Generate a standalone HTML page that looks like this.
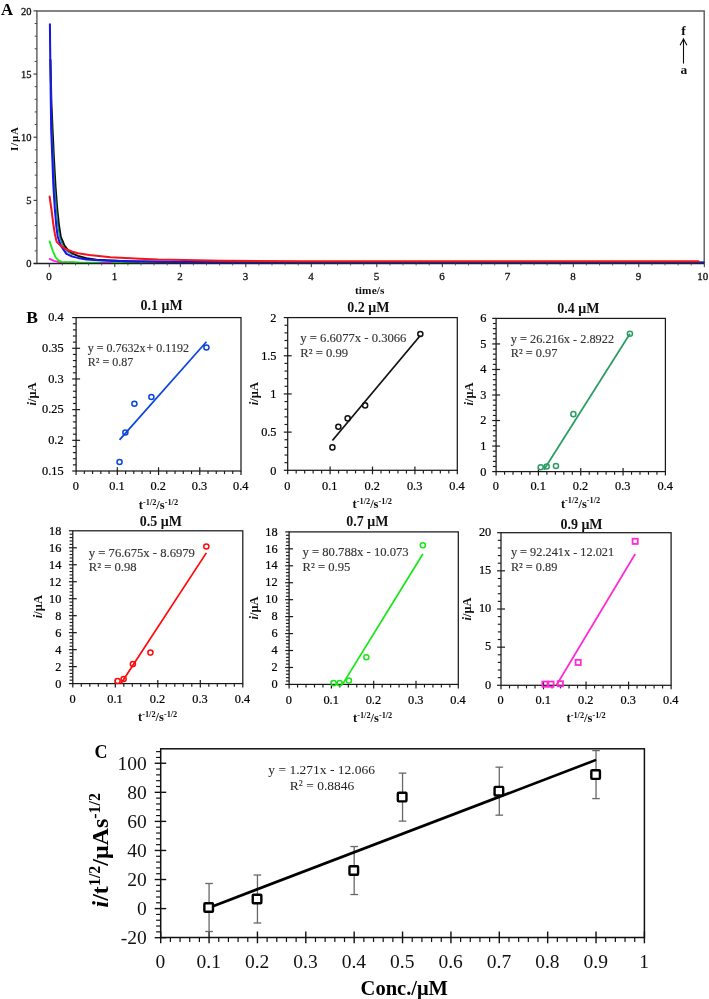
<!DOCTYPE html>
<html lang="en">
<head>
<meta charset="utf-8">
<title>Figure</title>
<style>
html, body { margin: 0; padding: 0; background: #ffffff; }
body { width: 709px; height: 999px; overflow: hidden; font-family: "Liberation Serif", serif; }
svg { display: block; font-family: "Liberation Serif", serif; }
#panelA { filter: url(#soft); }
</style>
</head>
<body>
<svg width="709" height="999" viewBox="0 0 709 999">
<defs><filter id="soft" x="-2%" y="-2%" width="104%" height="104%"><feGaussianBlur stdDeviation="0.45"/></filter></defs>
<rect x="0" y="0" width="709" height="999" fill="#ffffff"/>
<g id="panelA">
<path d="M36.9 263.5 V11 H704.2 V263.5" fill="none" stroke="#5a5a5a" stroke-width="1.4"/>
<line x1="33.5" y1="263.5" x2="36.9" y2="263.5" stroke="#333" stroke-width="1.1" />
<line x1="34.7" y1="250.87" x2="36.9" y2="250.87" stroke="#444" stroke-width="1.0" />
<line x1="34.7" y1="238.24" x2="36.9" y2="238.24" stroke="#444" stroke-width="1.0" />
<line x1="34.7" y1="225.61" x2="36.9" y2="225.61" stroke="#444" stroke-width="1.0" />
<line x1="34.7" y1="212.98" x2="36.9" y2="212.98" stroke="#444" stroke-width="1.0" />
<line x1="33.5" y1="200.35" x2="36.9" y2="200.35" stroke="#333" stroke-width="1.1" />
<line x1="34.7" y1="187.72" x2="36.9" y2="187.72" stroke="#444" stroke-width="1.0" />
<line x1="34.7" y1="175.09" x2="36.9" y2="175.09" stroke="#444" stroke-width="1.0" />
<line x1="34.7" y1="162.46" x2="36.9" y2="162.46" stroke="#444" stroke-width="1.0" />
<line x1="34.7" y1="149.83" x2="36.9" y2="149.83" stroke="#444" stroke-width="1.0" />
<line x1="33.5" y1="137.2" x2="36.9" y2="137.2" stroke="#333" stroke-width="1.1" />
<line x1="34.7" y1="124.57" x2="36.9" y2="124.57" stroke="#444" stroke-width="1.0" />
<line x1="34.7" y1="111.94" x2="36.9" y2="111.94" stroke="#444" stroke-width="1.0" />
<line x1="34.7" y1="99.31" x2="36.9" y2="99.31" stroke="#444" stroke-width="1.0" />
<line x1="34.7" y1="86.68" x2="36.9" y2="86.68" stroke="#444" stroke-width="1.0" />
<line x1="33.5" y1="74.05" x2="36.9" y2="74.05" stroke="#333" stroke-width="1.1" />
<line x1="34.7" y1="61.42" x2="36.9" y2="61.42" stroke="#444" stroke-width="1.0" />
<line x1="34.7" y1="48.79" x2="36.9" y2="48.79" stroke="#444" stroke-width="1.0" />
<line x1="34.7" y1="36.16" x2="36.9" y2="36.16" stroke="#444" stroke-width="1.0" />
<line x1="34.7" y1="23.53" x2="36.9" y2="23.53" stroke="#444" stroke-width="1.0" />
<line x1="33.5" y1="10.9" x2="36.9" y2="10.9" stroke="#333" stroke-width="1.1" />
<text x="31.4" y="267.1" font-size="10.5" text-anchor="end" font-weight="normal" fill="#111" stroke="#111" stroke-width="0.3">0</text>
<text x="31.4" y="203.95" font-size="10.5" text-anchor="end" font-weight="normal" fill="#111" stroke="#111" stroke-width="0.3">5</text>
<text x="31.4" y="140.8" font-size="10.5" text-anchor="end" font-weight="normal" fill="#111" stroke="#111" stroke-width="0.3">10</text>
<text x="31.4" y="77.65" font-size="10.5" text-anchor="end" font-weight="normal" fill="#111" stroke="#111" stroke-width="0.3">15</text>
<text x="31.4" y="14.5" font-size="10.5" text-anchor="end" font-weight="normal" fill="#111" stroke="#111" stroke-width="0.3">20</text>
<path d="M49.6 258.9 L54 260.8 L59.8 262.2 L74 262.4" fill="none" stroke="#ff22dd" stroke-width="1.8" stroke-linejoin="round" stroke-linecap="round"/>
<path d="M49.6 241.4 L52.5 250 L55.6 257.4 L58.5 260.4 L61.9 261.9 L80 262.4 L139 262.6" fill="none" stroke="#1dea1d" stroke-width="1.9" stroke-linejoin="round" stroke-linecap="round"/>
<path d="M100 262.7 L112 262.7" fill="none" stroke="#c040e0" stroke-width="1.4" stroke-linejoin="round" stroke-linecap="round"/>
<path d="M50.5 60 L51.3 100 L52.6 130 L53.9 158 L55.5 186 L57.2 208.5 L59 225.3 L60.8 237 L64.2 245 L68 250.4 L72.4 253.6 L78 255.9 L86.4 258.3 L96.4 259.7 L125 261.2 L200 262.2 L400 262.6 L703.5 262.7" fill="none" stroke="#101010" stroke-width="2.0" stroke-linejoin="round" stroke-linecap="round"/>
<path d="M50.3 60 L51.9 130 L54.6 186 L57.9 226 L59.9 238 L63.2 246 L67.2 251.6 L73 255" fill="none" stroke="#1f8a6a" stroke-width="1.2" stroke-linejoin="round" stroke-linecap="round"/>
<path d="M49.9 24.3 L50.5 80 L51.2 130 L52.3 158 L53.4 186 L54.8 208.5 L56.3 226 L57.7 236.5 L59.3 241.5 L61.4 246.6 L66.5 253.9 L72.4 256.6 L78 257.9 L86.5 259.4 L103.5 260.6 L140 261.6 L200 262.2 L400 262.4 L703.8 262.4" fill="none" stroke="#1212ee" stroke-width="2.0" stroke-linejoin="round" stroke-linecap="round"/>
<path d="M49.6 196.6 L51.4 209 L53.4 225 L54.9 234 L56.6 241.6 L60.5 245.6 L65.6 249 L72.4 251.7 L78 253.2 L89.4 254.9 L110.5 257.2 L140 258.7 L158 259.5 L197 260.2 L222 260.8 L300 261.2 L500 261.3 L698.5 261.3" fill="none" stroke="#f0141e" stroke-width="2.0" stroke-linejoin="round" stroke-linecap="round"/>
<line x1="33.7" y1="263.5" x2="704.2" y2="263.5" stroke="#222" stroke-width="1.3" />
<line x1="49.3" y1="263.5" x2="49.3" y2="267.1" stroke="#333" stroke-width="1" />
<line x1="62.4" y1="263.5" x2="62.4" y2="265.5" stroke="#555" stroke-width="0.9" />
<line x1="75.5" y1="263.5" x2="75.5" y2="265.5" stroke="#555" stroke-width="0.9" />
<line x1="88.6" y1="263.5" x2="88.6" y2="265.5" stroke="#555" stroke-width="0.9" />
<line x1="101.7" y1="263.5" x2="101.7" y2="265.5" stroke="#555" stroke-width="0.9" />
<line x1="114.8" y1="263.5" x2="114.8" y2="267.1" stroke="#333" stroke-width="1" />
<line x1="127.9" y1="263.5" x2="127.9" y2="265.5" stroke="#555" stroke-width="0.9" />
<line x1="141" y1="263.5" x2="141" y2="265.5" stroke="#555" stroke-width="0.9" />
<line x1="154.1" y1="263.5" x2="154.1" y2="265.5" stroke="#555" stroke-width="0.9" />
<line x1="167.2" y1="263.5" x2="167.2" y2="265.5" stroke="#555" stroke-width="0.9" />
<line x1="180.3" y1="263.5" x2="180.3" y2="267.1" stroke="#333" stroke-width="1" />
<line x1="193.4" y1="263.5" x2="193.4" y2="265.5" stroke="#555" stroke-width="0.9" />
<line x1="206.5" y1="263.5" x2="206.5" y2="265.5" stroke="#555" stroke-width="0.9" />
<line x1="219.6" y1="263.5" x2="219.6" y2="265.5" stroke="#555" stroke-width="0.9" />
<line x1="232.7" y1="263.5" x2="232.7" y2="265.5" stroke="#555" stroke-width="0.9" />
<line x1="245.8" y1="263.5" x2="245.8" y2="267.1" stroke="#333" stroke-width="1" />
<line x1="258.9" y1="263.5" x2="258.9" y2="265.5" stroke="#555" stroke-width="0.9" />
<line x1="272" y1="263.5" x2="272" y2="265.5" stroke="#555" stroke-width="0.9" />
<line x1="285.1" y1="263.5" x2="285.1" y2="265.5" stroke="#555" stroke-width="0.9" />
<line x1="298.2" y1="263.5" x2="298.2" y2="265.5" stroke="#555" stroke-width="0.9" />
<line x1="311.3" y1="263.5" x2="311.3" y2="267.1" stroke="#333" stroke-width="1" />
<line x1="324.4" y1="263.5" x2="324.4" y2="265.5" stroke="#555" stroke-width="0.9" />
<line x1="337.5" y1="263.5" x2="337.5" y2="265.5" stroke="#555" stroke-width="0.9" />
<line x1="350.6" y1="263.5" x2="350.6" y2="265.5" stroke="#555" stroke-width="0.9" />
<line x1="363.7" y1="263.5" x2="363.7" y2="265.5" stroke="#555" stroke-width="0.9" />
<line x1="376.8" y1="263.5" x2="376.8" y2="267.1" stroke="#333" stroke-width="1" />
<line x1="389.9" y1="263.5" x2="389.9" y2="265.5" stroke="#555" stroke-width="0.9" />
<line x1="403" y1="263.5" x2="403" y2="265.5" stroke="#555" stroke-width="0.9" />
<line x1="416.1" y1="263.5" x2="416.1" y2="265.5" stroke="#555" stroke-width="0.9" />
<line x1="429.2" y1="263.5" x2="429.2" y2="265.5" stroke="#555" stroke-width="0.9" />
<line x1="442.3" y1="263.5" x2="442.3" y2="267.1" stroke="#333" stroke-width="1" />
<line x1="455.4" y1="263.5" x2="455.4" y2="265.5" stroke="#555" stroke-width="0.9" />
<line x1="468.5" y1="263.5" x2="468.5" y2="265.5" stroke="#555" stroke-width="0.9" />
<line x1="481.6" y1="263.5" x2="481.6" y2="265.5" stroke="#555" stroke-width="0.9" />
<line x1="494.7" y1="263.5" x2="494.7" y2="265.5" stroke="#555" stroke-width="0.9" />
<line x1="507.8" y1="263.5" x2="507.8" y2="267.1" stroke="#333" stroke-width="1" />
<line x1="520.9" y1="263.5" x2="520.9" y2="265.5" stroke="#555" stroke-width="0.9" />
<line x1="534" y1="263.5" x2="534" y2="265.5" stroke="#555" stroke-width="0.9" />
<line x1="547.1" y1="263.5" x2="547.1" y2="265.5" stroke="#555" stroke-width="0.9" />
<line x1="560.2" y1="263.5" x2="560.2" y2="265.5" stroke="#555" stroke-width="0.9" />
<line x1="573.3" y1="263.5" x2="573.3" y2="267.1" stroke="#333" stroke-width="1" />
<line x1="586.4" y1="263.5" x2="586.4" y2="265.5" stroke="#555" stroke-width="0.9" />
<line x1="599.5" y1="263.5" x2="599.5" y2="265.5" stroke="#555" stroke-width="0.9" />
<line x1="612.6" y1="263.5" x2="612.6" y2="265.5" stroke="#555" stroke-width="0.9" />
<line x1="625.7" y1="263.5" x2="625.7" y2="265.5" stroke="#555" stroke-width="0.9" />
<line x1="638.8" y1="263.5" x2="638.8" y2="267.1" stroke="#333" stroke-width="1" />
<line x1="651.9" y1="263.5" x2="651.9" y2="265.5" stroke="#555" stroke-width="0.9" />
<line x1="665" y1="263.5" x2="665" y2="265.5" stroke="#555" stroke-width="0.9" />
<line x1="678.1" y1="263.5" x2="678.1" y2="265.5" stroke="#555" stroke-width="0.9" />
<line x1="691.2" y1="263.5" x2="691.2" y2="265.5" stroke="#555" stroke-width="0.9" />
<line x1="704.3" y1="263.5" x2="704.3" y2="267.1" stroke="#333" stroke-width="1" />
<text x="49.1" y="280.4" font-size="11" text-anchor="middle" font-weight="normal" fill="#111" stroke="#111" stroke-width="0.3">0</text>
<text x="114.6" y="280.4" font-size="11" text-anchor="middle" font-weight="normal" fill="#111" stroke="#111" stroke-width="0.3">1</text>
<text x="180.1" y="280.4" font-size="11" text-anchor="middle" font-weight="normal" fill="#111" stroke="#111" stroke-width="0.3">2</text>
<text x="245.6" y="280.4" font-size="11" text-anchor="middle" font-weight="normal" fill="#111" stroke="#111" stroke-width="0.3">3</text>
<text x="311.1" y="280.4" font-size="11" text-anchor="middle" font-weight="normal" fill="#111" stroke="#111" stroke-width="0.3">4</text>
<text x="376.6" y="280.4" font-size="11" text-anchor="middle" font-weight="normal" fill="#111" stroke="#111" stroke-width="0.3">5</text>
<text x="442.1" y="280.4" font-size="11" text-anchor="middle" font-weight="normal" fill="#111" stroke="#111" stroke-width="0.3">6</text>
<text x="507.6" y="280.4" font-size="11" text-anchor="middle" font-weight="normal" fill="#111" stroke="#111" stroke-width="0.3">7</text>
<text x="573.1" y="280.4" font-size="11" text-anchor="middle" font-weight="normal" fill="#111" stroke="#111" stroke-width="0.3">8</text>
<text x="638.6" y="280.4" font-size="11" text-anchor="middle" font-weight="normal" fill="#111" stroke="#111" stroke-width="0.3">9</text>
<text x="702.8" y="280.4" font-size="11" text-anchor="middle" font-weight="normal" fill="#111" stroke="#111" stroke-width="0.3">10</text>
<text x="369.8" y="293.6" font-size="11.3" text-anchor="middle" font-weight="bold" fill="#111" letter-spacing="0.15">time/s</text>
<text transform="translate(17.6 138.7) rotate(-90)" font-size="11" text-anchor="middle" font-weight="bold" fill="#111" letter-spacing="0.8">I/μA</text>
<text x="1" y="14.7" font-size="16.8" text-anchor="start" font-weight="bold" fill="#000" >A</text>
<text x="683.4" y="35.3" font-size="13.5" text-anchor="middle" font-weight="bold" fill="#111" >f</text>
<text x="683.9" y="74.2" font-size="13.5" text-anchor="middle" font-weight="bold" fill="#111" >a</text>
<line x1="683.5" y1="63.6" x2="683.5" y2="39.5" stroke="#111" stroke-width="1.1" />
<path d="M680.1 45.3 L683.5 39 L686.9 45.3" fill="none" stroke="#111" stroke-width="1.1"/>
</g>
<g id="panelB" opacity="0.999">
<text x="26.2" y="322.9" font-size="17.5" text-anchor="start" font-weight="bold" fill="#000" >B</text>
<g>
<rect x="76.1" y="317.6" width="164.9" height="153.4" fill="none" stroke="#1a1a1a" stroke-width="1.25"/>
<line x1="72.2" y1="471" x2="76.1" y2="471" stroke="#1a1a1a" stroke-width="1.2" />
<line x1="72.9" y1="464.86" x2="76.1" y2="464.86" stroke="#1a1a1a" stroke-width="1.15" />
<line x1="72.9" y1="458.73" x2="76.1" y2="458.73" stroke="#1a1a1a" stroke-width="1.15" />
<line x1="72.9" y1="452.59" x2="76.1" y2="452.59" stroke="#1a1a1a" stroke-width="1.15" />
<line x1="72.9" y1="446.46" x2="76.1" y2="446.46" stroke="#1a1a1a" stroke-width="1.15" />
<line x1="72.2" y1="440.32" x2="80.1" y2="440.32" stroke="#1a1a1a" stroke-width="1.2" />
<line x1="72.9" y1="434.18" x2="76.1" y2="434.18" stroke="#1a1a1a" stroke-width="1.15" />
<line x1="72.9" y1="428.05" x2="76.1" y2="428.05" stroke="#1a1a1a" stroke-width="1.15" />
<line x1="72.9" y1="421.91" x2="76.1" y2="421.91" stroke="#1a1a1a" stroke-width="1.15" />
<line x1="72.9" y1="415.78" x2="76.1" y2="415.78" stroke="#1a1a1a" stroke-width="1.15" />
<line x1="72.2" y1="409.64" x2="80.1" y2="409.64" stroke="#1a1a1a" stroke-width="1.2" />
<line x1="72.9" y1="403.5" x2="76.1" y2="403.5" stroke="#1a1a1a" stroke-width="1.15" />
<line x1="72.9" y1="397.37" x2="76.1" y2="397.37" stroke="#1a1a1a" stroke-width="1.15" />
<line x1="72.9" y1="391.23" x2="76.1" y2="391.23" stroke="#1a1a1a" stroke-width="1.15" />
<line x1="72.9" y1="385.1" x2="76.1" y2="385.1" stroke="#1a1a1a" stroke-width="1.15" />
<line x1="72.2" y1="378.96" x2="80.1" y2="378.96" stroke="#1a1a1a" stroke-width="1.2" />
<line x1="72.9" y1="372.82" x2="76.1" y2="372.82" stroke="#1a1a1a" stroke-width="1.15" />
<line x1="72.9" y1="366.69" x2="76.1" y2="366.69" stroke="#1a1a1a" stroke-width="1.15" />
<line x1="72.9" y1="360.55" x2="76.1" y2="360.55" stroke="#1a1a1a" stroke-width="1.15" />
<line x1="72.9" y1="354.42" x2="76.1" y2="354.42" stroke="#1a1a1a" stroke-width="1.15" />
<line x1="72.2" y1="348.28" x2="80.1" y2="348.28" stroke="#1a1a1a" stroke-width="1.2" />
<line x1="72.9" y1="342.14" x2="76.1" y2="342.14" stroke="#1a1a1a" stroke-width="1.15" />
<line x1="72.9" y1="336.01" x2="76.1" y2="336.01" stroke="#1a1a1a" stroke-width="1.15" />
<line x1="72.9" y1="329.87" x2="76.1" y2="329.87" stroke="#1a1a1a" stroke-width="1.15" />
<line x1="72.9" y1="323.74" x2="76.1" y2="323.74" stroke="#1a1a1a" stroke-width="1.15" />
<line x1="72.2" y1="317.6" x2="76.1" y2="317.6" stroke="#1a1a1a" stroke-width="1.2" />
<text x="63.6" y="474.6" font-size="12.3" text-anchor="end" font-weight="normal" fill="#000" stroke="#000" stroke-width="0.22">0.15</text>
<text x="63.6" y="443.92" font-size="12.3" text-anchor="end" font-weight="normal" fill="#000" stroke="#000" stroke-width="0.22">0.2</text>
<text x="63.6" y="413.24" font-size="12.3" text-anchor="end" font-weight="normal" fill="#000" stroke="#000" stroke-width="0.22">0.25</text>
<text x="63.6" y="382.56" font-size="12.3" text-anchor="end" font-weight="normal" fill="#000" stroke="#000" stroke-width="0.22">0.3</text>
<text x="63.6" y="351.88" font-size="12.3" text-anchor="end" font-weight="normal" fill="#000" stroke="#000" stroke-width="0.22">0.35</text>
<text x="63.6" y="321.2" font-size="12.3" text-anchor="end" font-weight="normal" fill="#000" stroke="#000" stroke-width="0.22">0.4</text>
<line x1="76.1" y1="471" x2="76.1" y2="475" stroke="#1a1a1a" stroke-width="1.2" />
<line x1="84.34" y1="471" x2="84.34" y2="474.1" stroke="#1a1a1a" stroke-width="1.15" />
<line x1="92.59" y1="471" x2="92.59" y2="474.1" stroke="#1a1a1a" stroke-width="1.15" />
<line x1="100.83" y1="471" x2="100.83" y2="474.1" stroke="#1a1a1a" stroke-width="1.15" />
<line x1="109.08" y1="471" x2="109.08" y2="474.1" stroke="#1a1a1a" stroke-width="1.15" />
<line x1="117.32" y1="467.3" x2="117.32" y2="475" stroke="#1a1a1a" stroke-width="1.2" />
<line x1="125.57" y1="471" x2="125.57" y2="474.1" stroke="#1a1a1a" stroke-width="1.15" />
<line x1="133.81" y1="471" x2="133.81" y2="474.1" stroke="#1a1a1a" stroke-width="1.15" />
<line x1="142.06" y1="471" x2="142.06" y2="474.1" stroke="#1a1a1a" stroke-width="1.15" />
<line x1="150.31" y1="471" x2="150.31" y2="474.1" stroke="#1a1a1a" stroke-width="1.15" />
<line x1="158.55" y1="467.3" x2="158.55" y2="475" stroke="#1a1a1a" stroke-width="1.2" />
<line x1="166.79" y1="471" x2="166.79" y2="474.1" stroke="#1a1a1a" stroke-width="1.15" />
<line x1="175.04" y1="471" x2="175.04" y2="474.1" stroke="#1a1a1a" stroke-width="1.15" />
<line x1="183.28" y1="471" x2="183.28" y2="474.1" stroke="#1a1a1a" stroke-width="1.15" />
<line x1="191.53" y1="471" x2="191.53" y2="474.1" stroke="#1a1a1a" stroke-width="1.15" />
<line x1="199.77" y1="467.3" x2="199.77" y2="475" stroke="#1a1a1a" stroke-width="1.2" />
<line x1="208.02" y1="471" x2="208.02" y2="474.1" stroke="#1a1a1a" stroke-width="1.15" />
<line x1="216.26" y1="471" x2="216.26" y2="474.1" stroke="#1a1a1a" stroke-width="1.15" />
<line x1="224.51" y1="471" x2="224.51" y2="474.1" stroke="#1a1a1a" stroke-width="1.15" />
<line x1="232.75" y1="471" x2="232.75" y2="474.1" stroke="#1a1a1a" stroke-width="1.15" />
<line x1="241" y1="471" x2="241" y2="475" stroke="#1a1a1a" stroke-width="1.2" />
<text x="75.8" y="489.7" font-size="12.3" text-anchor="middle" font-weight="normal" fill="#000" stroke="#000" stroke-width="0.22">0</text>
<text x="117.02" y="489.7" font-size="12.3" text-anchor="middle" font-weight="normal" fill="#000" stroke="#000" stroke-width="0.22">0.1</text>
<text x="158.25" y="489.7" font-size="12.3" text-anchor="middle" font-weight="normal" fill="#000" stroke="#000" stroke-width="0.22">0.2</text>
<text x="199.48" y="489.7" font-size="12.3" text-anchor="middle" font-weight="normal" fill="#000" stroke="#000" stroke-width="0.22">0.3</text>
<text x="240.7" y="489.7" font-size="12.3" text-anchor="middle" font-weight="normal" fill="#000" stroke="#000" stroke-width="0.22">0.4</text>
<line x1="119.55" y1="439.89" x2="206.45" y2="341.71" stroke="#0a46dc" stroke-width="1.75" stroke-linecap="butt"/>
<circle cx="119.55" cy="461.98" r="2.55" fill="none" stroke="#0a46dc" stroke-width="1.5"/>
<circle cx="125.36" cy="432.53" r="2.55" fill="none" stroke="#0a46dc" stroke-width="1.5"/>
<circle cx="134.39" cy="403.69" r="2.55" fill="none" stroke="#0a46dc" stroke-width="1.5"/>
<circle cx="151.38" cy="396.94" r="2.55" fill="none" stroke="#0a46dc" stroke-width="1.5"/>
<circle cx="206.45" cy="347.48" r="2.55" fill="none" stroke="#0a46dc" stroke-width="1.5"/>
<text x="87.8" y="351.65" font-size="12" text-anchor="start" font-weight="normal" fill="#333" stroke="#333" stroke-width="0.15">y = 0.7632x<tspan dx="1">+</tspan> 0.1192</text>
<text x="87.8" y="365.8" font-size="12" text-anchor="start" font-weight="normal" fill="#333" stroke="#333" stroke-width="0.15">R² = 0.87</text>
<text x="161.7" y="310.3" font-size="14" text-anchor="middle" font-weight="bold" fill="#111" >0.1 μM</text>
<text transform="translate(35.7 394) rotate(-90)" font-size="12.5" text-anchor="middle" font-weight="bold" fill="#111"><tspan font-style="italic">i</tspan>/μA</text>
<text x="138.8" y="508.8" font-size="12.5" font-weight="bold" fill="#111">t<tspan font-size="8.3" dy="-4.2">-1/2</tspan><tspan dy="4.2">/s</tspan><tspan font-size="8.3" dy="-4.2">-1/2</tspan></text>
</g>
<g>
<rect x="287.7" y="317.6" width="169.6" height="152.7" fill="none" stroke="#1a1a1a" stroke-width="1.25"/>
<line x1="283.8" y1="470.3" x2="287.7" y2="470.3" stroke="#1a1a1a" stroke-width="1.2" />
<line x1="284.5" y1="462.67" x2="287.7" y2="462.67" stroke="#1a1a1a" stroke-width="1.15" />
<line x1="284.5" y1="455.03" x2="287.7" y2="455.03" stroke="#1a1a1a" stroke-width="1.15" />
<line x1="284.5" y1="447.4" x2="287.7" y2="447.4" stroke="#1a1a1a" stroke-width="1.15" />
<line x1="284.5" y1="439.76" x2="287.7" y2="439.76" stroke="#1a1a1a" stroke-width="1.15" />
<line x1="283.8" y1="432.12" x2="291.7" y2="432.12" stroke="#1a1a1a" stroke-width="1.2" />
<line x1="284.5" y1="424.49" x2="287.7" y2="424.49" stroke="#1a1a1a" stroke-width="1.15" />
<line x1="284.5" y1="416.86" x2="287.7" y2="416.86" stroke="#1a1a1a" stroke-width="1.15" />
<line x1="284.5" y1="409.22" x2="287.7" y2="409.22" stroke="#1a1a1a" stroke-width="1.15" />
<line x1="284.5" y1="401.59" x2="287.7" y2="401.59" stroke="#1a1a1a" stroke-width="1.15" />
<line x1="283.8" y1="393.95" x2="291.7" y2="393.95" stroke="#1a1a1a" stroke-width="1.2" />
<line x1="284.5" y1="386.31" x2="287.7" y2="386.31" stroke="#1a1a1a" stroke-width="1.15" />
<line x1="284.5" y1="378.68" x2="287.7" y2="378.68" stroke="#1a1a1a" stroke-width="1.15" />
<line x1="284.5" y1="371.05" x2="287.7" y2="371.05" stroke="#1a1a1a" stroke-width="1.15" />
<line x1="284.5" y1="363.41" x2="287.7" y2="363.41" stroke="#1a1a1a" stroke-width="1.15" />
<line x1="283.8" y1="355.78" x2="291.7" y2="355.78" stroke="#1a1a1a" stroke-width="1.2" />
<line x1="284.5" y1="348.14" x2="287.7" y2="348.14" stroke="#1a1a1a" stroke-width="1.15" />
<line x1="284.5" y1="340.5" x2="287.7" y2="340.5" stroke="#1a1a1a" stroke-width="1.15" />
<line x1="284.5" y1="332.87" x2="287.7" y2="332.87" stroke="#1a1a1a" stroke-width="1.15" />
<line x1="284.5" y1="325.24" x2="287.7" y2="325.24" stroke="#1a1a1a" stroke-width="1.15" />
<line x1="283.8" y1="317.6" x2="287.7" y2="317.6" stroke="#1a1a1a" stroke-width="1.2" />
<text x="276.5" y="474.5" font-size="12.3" text-anchor="end" font-weight="normal" fill="#000" stroke="#000" stroke-width="0.22">0</text>
<text x="276.5" y="436.32" font-size="12.3" text-anchor="end" font-weight="normal" fill="#000" stroke="#000" stroke-width="0.22">0.5</text>
<text x="276.5" y="398.15" font-size="12.3" text-anchor="end" font-weight="normal" fill="#000" stroke="#000" stroke-width="0.22">1</text>
<text x="276.5" y="359.98" font-size="12.3" text-anchor="end" font-weight="normal" fill="#000" stroke="#000" stroke-width="0.22">1.5</text>
<text x="276.5" y="321.8" font-size="12.3" text-anchor="end" font-weight="normal" fill="#000" stroke="#000" stroke-width="0.22">2</text>
<line x1="287.7" y1="470.3" x2="287.7" y2="474.3" stroke="#1a1a1a" stroke-width="1.2" />
<line x1="296.18" y1="470.3" x2="296.18" y2="473.4" stroke="#1a1a1a" stroke-width="1.15" />
<line x1="304.66" y1="470.3" x2="304.66" y2="473.4" stroke="#1a1a1a" stroke-width="1.15" />
<line x1="313.14" y1="470.3" x2="313.14" y2="473.4" stroke="#1a1a1a" stroke-width="1.15" />
<line x1="321.62" y1="470.3" x2="321.62" y2="473.4" stroke="#1a1a1a" stroke-width="1.15" />
<line x1="330.1" y1="466.6" x2="330.1" y2="474.3" stroke="#1a1a1a" stroke-width="1.2" />
<line x1="338.58" y1="470.3" x2="338.58" y2="473.4" stroke="#1a1a1a" stroke-width="1.15" />
<line x1="347.06" y1="470.3" x2="347.06" y2="473.4" stroke="#1a1a1a" stroke-width="1.15" />
<line x1="355.54" y1="470.3" x2="355.54" y2="473.4" stroke="#1a1a1a" stroke-width="1.15" />
<line x1="364.02" y1="470.3" x2="364.02" y2="473.4" stroke="#1a1a1a" stroke-width="1.15" />
<line x1="372.5" y1="466.6" x2="372.5" y2="474.3" stroke="#1a1a1a" stroke-width="1.2" />
<line x1="380.98" y1="470.3" x2="380.98" y2="473.4" stroke="#1a1a1a" stroke-width="1.15" />
<line x1="389.46" y1="470.3" x2="389.46" y2="473.4" stroke="#1a1a1a" stroke-width="1.15" />
<line x1="397.94" y1="470.3" x2="397.94" y2="473.4" stroke="#1a1a1a" stroke-width="1.15" />
<line x1="406.42" y1="470.3" x2="406.42" y2="473.4" stroke="#1a1a1a" stroke-width="1.15" />
<line x1="414.9" y1="466.6" x2="414.9" y2="474.3" stroke="#1a1a1a" stroke-width="1.2" />
<line x1="423.38" y1="470.3" x2="423.38" y2="473.4" stroke="#1a1a1a" stroke-width="1.15" />
<line x1="431.86" y1="470.3" x2="431.86" y2="473.4" stroke="#1a1a1a" stroke-width="1.15" />
<line x1="440.34" y1="470.3" x2="440.34" y2="473.4" stroke="#1a1a1a" stroke-width="1.15" />
<line x1="448.82" y1="470.3" x2="448.82" y2="473.4" stroke="#1a1a1a" stroke-width="1.15" />
<line x1="457.3" y1="470.3" x2="457.3" y2="474.3" stroke="#1a1a1a" stroke-width="1.2" />
<text x="287.4" y="489.9" font-size="12.3" text-anchor="middle" font-weight="normal" fill="#000" stroke="#000" stroke-width="0.22">0</text>
<text x="329.8" y="489.9" font-size="12.3" text-anchor="middle" font-weight="normal" fill="#000" stroke="#000" stroke-width="0.22">0.1</text>
<text x="372.2" y="489.9" font-size="12.3" text-anchor="middle" font-weight="normal" fill="#000" stroke="#000" stroke-width="0.22">0.2</text>
<text x="414.6" y="489.9" font-size="12.3" text-anchor="middle" font-weight="normal" fill="#000" stroke="#000" stroke-width="0.22">0.3</text>
<text x="457" y="489.9" font-size="12.3" text-anchor="middle" font-weight="normal" fill="#000" stroke="#000" stroke-width="0.22">0.4</text>
<line x1="332.39" y1="440.52" x2="420.33" y2="335.54" stroke="#111111" stroke-width="1.75" stroke-linecap="butt"/>
<circle cx="332.39" cy="447.4" r="2.55" fill="none" stroke="#111111" stroke-width="1.5"/>
<circle cx="338.37" cy="426.78" r="2.55" fill="none" stroke="#111111" stroke-width="1.5"/>
<circle cx="347.65" cy="418.38" r="2.55" fill="none" stroke="#111111" stroke-width="1.5"/>
<circle cx="365.12" cy="405.4" r="2.55" fill="none" stroke="#111111" stroke-width="1.5"/>
<circle cx="420.33" cy="334.02" r="2.55" fill="none" stroke="#111111" stroke-width="1.5"/>
<text x="300.3" y="342.1" font-size="12.65" text-anchor="start" font-weight="normal" fill="#333" stroke="#333" stroke-width="0.15">y = 6.6077x - 0.3066</text>
<text x="300.3" y="357.2" font-size="12.65" text-anchor="start" font-weight="normal" fill="#333" stroke="#333" stroke-width="0.15">R² = 0.99</text>
<text x="368.3" y="311.7" font-size="14" text-anchor="middle" font-weight="bold" fill="#111" >0.2 μM</text>
<text transform="translate(257.6 393.6) rotate(-90)" font-size="12.5" text-anchor="middle" font-weight="bold" fill="#111"><tspan font-style="italic">i</tspan>/μA</text>
<text x="352.6" y="508.3" font-size="12.5" font-weight="bold" fill="#111">t<tspan font-size="8.3" dy="-4.2">-1/2</tspan><tspan dy="4.2">/s</tspan><tspan font-size="8.3" dy="-4.2">-1/2</tspan></text>
</g>
<g>
<rect x="496.1" y="318.4" width="169.3" height="153.2" fill="none" stroke="#1a1a1a" stroke-width="1.25"/>
<line x1="492.2" y1="471.6" x2="496.1" y2="471.6" stroke="#1a1a1a" stroke-width="1.2" />
<line x1="492.9" y1="466.49" x2="496.1" y2="466.49" stroke="#1a1a1a" stroke-width="1.15" />
<line x1="492.9" y1="461.39" x2="496.1" y2="461.39" stroke="#1a1a1a" stroke-width="1.15" />
<line x1="492.9" y1="456.28" x2="496.1" y2="456.28" stroke="#1a1a1a" stroke-width="1.15" />
<line x1="492.9" y1="451.17" x2="496.1" y2="451.17" stroke="#1a1a1a" stroke-width="1.15" />
<line x1="492.2" y1="446.07" x2="500.1" y2="446.07" stroke="#1a1a1a" stroke-width="1.2" />
<line x1="492.9" y1="440.96" x2="496.1" y2="440.96" stroke="#1a1a1a" stroke-width="1.15" />
<line x1="492.9" y1="435.85" x2="496.1" y2="435.85" stroke="#1a1a1a" stroke-width="1.15" />
<line x1="492.9" y1="430.75" x2="496.1" y2="430.75" stroke="#1a1a1a" stroke-width="1.15" />
<line x1="492.9" y1="425.64" x2="496.1" y2="425.64" stroke="#1a1a1a" stroke-width="1.15" />
<line x1="492.2" y1="420.53" x2="500.1" y2="420.53" stroke="#1a1a1a" stroke-width="1.2" />
<line x1="492.9" y1="415.43" x2="496.1" y2="415.43" stroke="#1a1a1a" stroke-width="1.15" />
<line x1="492.9" y1="410.32" x2="496.1" y2="410.32" stroke="#1a1a1a" stroke-width="1.15" />
<line x1="492.9" y1="405.21" x2="496.1" y2="405.21" stroke="#1a1a1a" stroke-width="1.15" />
<line x1="492.9" y1="400.11" x2="496.1" y2="400.11" stroke="#1a1a1a" stroke-width="1.15" />
<line x1="492.2" y1="395" x2="500.1" y2="395" stroke="#1a1a1a" stroke-width="1.2" />
<line x1="492.9" y1="389.89" x2="496.1" y2="389.89" stroke="#1a1a1a" stroke-width="1.15" />
<line x1="492.9" y1="384.79" x2="496.1" y2="384.79" stroke="#1a1a1a" stroke-width="1.15" />
<line x1="492.9" y1="379.68" x2="496.1" y2="379.68" stroke="#1a1a1a" stroke-width="1.15" />
<line x1="492.9" y1="374.57" x2="496.1" y2="374.57" stroke="#1a1a1a" stroke-width="1.15" />
<line x1="492.2" y1="369.47" x2="500.1" y2="369.47" stroke="#1a1a1a" stroke-width="1.2" />
<line x1="492.9" y1="364.36" x2="496.1" y2="364.36" stroke="#1a1a1a" stroke-width="1.15" />
<line x1="492.9" y1="359.25" x2="496.1" y2="359.25" stroke="#1a1a1a" stroke-width="1.15" />
<line x1="492.9" y1="354.15" x2="496.1" y2="354.15" stroke="#1a1a1a" stroke-width="1.15" />
<line x1="492.9" y1="349.04" x2="496.1" y2="349.04" stroke="#1a1a1a" stroke-width="1.15" />
<line x1="492.2" y1="343.93" x2="500.1" y2="343.93" stroke="#1a1a1a" stroke-width="1.2" />
<line x1="492.9" y1="338.83" x2="496.1" y2="338.83" stroke="#1a1a1a" stroke-width="1.15" />
<line x1="492.9" y1="333.72" x2="496.1" y2="333.72" stroke="#1a1a1a" stroke-width="1.15" />
<line x1="492.9" y1="328.61" x2="496.1" y2="328.61" stroke="#1a1a1a" stroke-width="1.15" />
<line x1="492.9" y1="323.51" x2="496.1" y2="323.51" stroke="#1a1a1a" stroke-width="1.15" />
<line x1="492.2" y1="318.4" x2="496.1" y2="318.4" stroke="#1a1a1a" stroke-width="1.2" />
<text x="486.3" y="475.5" font-size="12.3" text-anchor="end" font-weight="normal" fill="#000" stroke="#000" stroke-width="0.22">0</text>
<text x="486.3" y="449.97" font-size="12.3" text-anchor="end" font-weight="normal" fill="#000" stroke="#000" stroke-width="0.22">1</text>
<text x="486.3" y="424.43" font-size="12.3" text-anchor="end" font-weight="normal" fill="#000" stroke="#000" stroke-width="0.22">2</text>
<text x="486.3" y="398.9" font-size="12.3" text-anchor="end" font-weight="normal" fill="#000" stroke="#000" stroke-width="0.22">3</text>
<text x="486.3" y="373.37" font-size="12.3" text-anchor="end" font-weight="normal" fill="#000" stroke="#000" stroke-width="0.22">4</text>
<text x="486.3" y="347.83" font-size="12.3" text-anchor="end" font-weight="normal" fill="#000" stroke="#000" stroke-width="0.22">5</text>
<text x="486.3" y="322.3" font-size="12.3" text-anchor="end" font-weight="normal" fill="#000" stroke="#000" stroke-width="0.22">6</text>
<line x1="496.1" y1="471.6" x2="496.1" y2="475.6" stroke="#1a1a1a" stroke-width="1.2" />
<line x1="504.56" y1="471.6" x2="504.56" y2="474.7" stroke="#1a1a1a" stroke-width="1.15" />
<line x1="513.03" y1="471.6" x2="513.03" y2="474.7" stroke="#1a1a1a" stroke-width="1.15" />
<line x1="521.5" y1="471.6" x2="521.5" y2="474.7" stroke="#1a1a1a" stroke-width="1.15" />
<line x1="529.96" y1="471.6" x2="529.96" y2="474.7" stroke="#1a1a1a" stroke-width="1.15" />
<line x1="538.42" y1="467.9" x2="538.42" y2="475.6" stroke="#1a1a1a" stroke-width="1.2" />
<line x1="546.89" y1="471.6" x2="546.89" y2="474.7" stroke="#1a1a1a" stroke-width="1.15" />
<line x1="555.36" y1="471.6" x2="555.36" y2="474.7" stroke="#1a1a1a" stroke-width="1.15" />
<line x1="563.82" y1="471.6" x2="563.82" y2="474.7" stroke="#1a1a1a" stroke-width="1.15" />
<line x1="572.28" y1="471.6" x2="572.28" y2="474.7" stroke="#1a1a1a" stroke-width="1.15" />
<line x1="580.75" y1="467.9" x2="580.75" y2="475.6" stroke="#1a1a1a" stroke-width="1.2" />
<line x1="589.22" y1="471.6" x2="589.22" y2="474.7" stroke="#1a1a1a" stroke-width="1.15" />
<line x1="597.68" y1="471.6" x2="597.68" y2="474.7" stroke="#1a1a1a" stroke-width="1.15" />
<line x1="606.14" y1="471.6" x2="606.14" y2="474.7" stroke="#1a1a1a" stroke-width="1.15" />
<line x1="614.61" y1="471.6" x2="614.61" y2="474.7" stroke="#1a1a1a" stroke-width="1.15" />
<line x1="623.07" y1="467.9" x2="623.07" y2="475.6" stroke="#1a1a1a" stroke-width="1.2" />
<line x1="631.54" y1="471.6" x2="631.54" y2="474.7" stroke="#1a1a1a" stroke-width="1.15" />
<line x1="640" y1="471.6" x2="640" y2="474.7" stroke="#1a1a1a" stroke-width="1.15" />
<line x1="648.47" y1="471.6" x2="648.47" y2="474.7" stroke="#1a1a1a" stroke-width="1.15" />
<line x1="656.93" y1="471.6" x2="656.93" y2="474.7" stroke="#1a1a1a" stroke-width="1.15" />
<line x1="665.4" y1="471.6" x2="665.4" y2="475.6" stroke="#1a1a1a" stroke-width="1.2" />
<text x="495.8" y="490" font-size="12.3" text-anchor="middle" font-weight="normal" fill="#000" stroke="#000" stroke-width="0.22">0</text>
<text x="538.12" y="490" font-size="12.3" text-anchor="middle" font-weight="normal" fill="#000" stroke="#000" stroke-width="0.22">0.1</text>
<text x="580.45" y="490" font-size="12.3" text-anchor="middle" font-weight="normal" fill="#000" stroke="#000" stroke-width="0.22">0.2</text>
<text x="622.78" y="490" font-size="12.3" text-anchor="middle" font-weight="normal" fill="#000" stroke="#000" stroke-width="0.22">0.3</text>
<text x="665.1" y="490" font-size="12.3" text-anchor="middle" font-weight="normal" fill="#000" stroke="#000" stroke-width="0.22">0.4</text>
<line x1="543.93" y1="469.81" x2="629.93" y2="333.8" stroke="#2a9d63" stroke-width="1.75" stroke-linecap="butt"/>
<circle cx="540.71" cy="467.26" r="2.55" fill="none" stroke="#2a9d63" stroke-width="1.5"/>
<circle cx="546.68" cy="466.49" r="2.55" fill="none" stroke="#2a9d63" stroke-width="1.5"/>
<circle cx="555.95" cy="465.98" r="2.55" fill="none" stroke="#2a9d63" stroke-width="1.5"/>
<circle cx="573.39" cy="414.15" r="2.55" fill="none" stroke="#2a9d63" stroke-width="1.5"/>
<circle cx="629.93" cy="333.72" r="2.55" fill="none" stroke="#2a9d63" stroke-width="1.5"/>
<text x="510.8" y="342.9" font-size="12.3" text-anchor="start" font-weight="normal" fill="#333" stroke="#333" stroke-width="0.15">y = 26.216x - 2.8922</text>
<text x="510.8" y="357.05" font-size="12.3" text-anchor="start" font-weight="normal" fill="#333" stroke="#333" stroke-width="0.15">R² = 0.97</text>
<text x="578.3" y="313.2" font-size="14" text-anchor="middle" font-weight="bold" fill="#111" >0.4 μM</text>
<text transform="translate(472.6 394) rotate(-90)" font-size="12.5" text-anchor="middle" font-weight="bold" fill="#111"><tspan font-style="italic">i</tspan>/μA</text>
<text x="560.9" y="507.6" font-size="12.5" font-weight="bold" fill="#111">t<tspan font-size="8.3" dy="-4.2">-1/2</tspan><tspan dy="4.2">/s</tspan><tspan font-size="8.3" dy="-4.2">-1/2</tspan></text>
</g>
<g>
<rect x="72.8" y="530.8" width="170" height="152.8" fill="none" stroke="#1a1a1a" stroke-width="1.25"/>
<line x1="68.9" y1="683.6" x2="72.8" y2="683.6" stroke="#1a1a1a" stroke-width="1.2" />
<line x1="69.6" y1="680.2" x2="72.8" y2="680.2" stroke="#1a1a1a" stroke-width="1.15" />
<line x1="69.6" y1="676.81" x2="72.8" y2="676.81" stroke="#1a1a1a" stroke-width="1.15" />
<line x1="69.6" y1="673.41" x2="72.8" y2="673.41" stroke="#1a1a1a" stroke-width="1.15" />
<line x1="69.6" y1="670.02" x2="72.8" y2="670.02" stroke="#1a1a1a" stroke-width="1.15" />
<line x1="68.9" y1="666.62" x2="76.8" y2="666.62" stroke="#1a1a1a" stroke-width="1.2" />
<line x1="69.6" y1="663.23" x2="72.8" y2="663.23" stroke="#1a1a1a" stroke-width="1.15" />
<line x1="69.6" y1="659.83" x2="72.8" y2="659.83" stroke="#1a1a1a" stroke-width="1.15" />
<line x1="69.6" y1="656.44" x2="72.8" y2="656.44" stroke="#1a1a1a" stroke-width="1.15" />
<line x1="69.6" y1="653.04" x2="72.8" y2="653.04" stroke="#1a1a1a" stroke-width="1.15" />
<line x1="68.9" y1="649.64" x2="76.8" y2="649.64" stroke="#1a1a1a" stroke-width="1.2" />
<line x1="69.6" y1="646.25" x2="72.8" y2="646.25" stroke="#1a1a1a" stroke-width="1.15" />
<line x1="69.6" y1="642.85" x2="72.8" y2="642.85" stroke="#1a1a1a" stroke-width="1.15" />
<line x1="69.6" y1="639.46" x2="72.8" y2="639.46" stroke="#1a1a1a" stroke-width="1.15" />
<line x1="69.6" y1="636.06" x2="72.8" y2="636.06" stroke="#1a1a1a" stroke-width="1.15" />
<line x1="68.9" y1="632.67" x2="76.8" y2="632.67" stroke="#1a1a1a" stroke-width="1.2" />
<line x1="69.6" y1="629.27" x2="72.8" y2="629.27" stroke="#1a1a1a" stroke-width="1.15" />
<line x1="69.6" y1="625.88" x2="72.8" y2="625.88" stroke="#1a1a1a" stroke-width="1.15" />
<line x1="69.6" y1="622.48" x2="72.8" y2="622.48" stroke="#1a1a1a" stroke-width="1.15" />
<line x1="69.6" y1="619.08" x2="72.8" y2="619.08" stroke="#1a1a1a" stroke-width="1.15" />
<line x1="68.9" y1="615.69" x2="76.8" y2="615.69" stroke="#1a1a1a" stroke-width="1.2" />
<line x1="69.6" y1="612.29" x2="72.8" y2="612.29" stroke="#1a1a1a" stroke-width="1.15" />
<line x1="69.6" y1="608.9" x2="72.8" y2="608.9" stroke="#1a1a1a" stroke-width="1.15" />
<line x1="69.6" y1="605.5" x2="72.8" y2="605.5" stroke="#1a1a1a" stroke-width="1.15" />
<line x1="69.6" y1="602.11" x2="72.8" y2="602.11" stroke="#1a1a1a" stroke-width="1.15" />
<line x1="68.9" y1="598.71" x2="76.8" y2="598.71" stroke="#1a1a1a" stroke-width="1.2" />
<line x1="69.6" y1="595.32" x2="72.8" y2="595.32" stroke="#1a1a1a" stroke-width="1.15" />
<line x1="69.6" y1="591.92" x2="72.8" y2="591.92" stroke="#1a1a1a" stroke-width="1.15" />
<line x1="69.6" y1="588.52" x2="72.8" y2="588.52" stroke="#1a1a1a" stroke-width="1.15" />
<line x1="69.6" y1="585.13" x2="72.8" y2="585.13" stroke="#1a1a1a" stroke-width="1.15" />
<line x1="68.9" y1="581.73" x2="76.8" y2="581.73" stroke="#1a1a1a" stroke-width="1.2" />
<line x1="69.6" y1="578.34" x2="72.8" y2="578.34" stroke="#1a1a1a" stroke-width="1.15" />
<line x1="69.6" y1="574.94" x2="72.8" y2="574.94" stroke="#1a1a1a" stroke-width="1.15" />
<line x1="69.6" y1="571.55" x2="72.8" y2="571.55" stroke="#1a1a1a" stroke-width="1.15" />
<line x1="69.6" y1="568.15" x2="72.8" y2="568.15" stroke="#1a1a1a" stroke-width="1.15" />
<line x1="68.9" y1="564.76" x2="76.8" y2="564.76" stroke="#1a1a1a" stroke-width="1.2" />
<line x1="69.6" y1="561.36" x2="72.8" y2="561.36" stroke="#1a1a1a" stroke-width="1.15" />
<line x1="69.6" y1="557.96" x2="72.8" y2="557.96" stroke="#1a1a1a" stroke-width="1.15" />
<line x1="69.6" y1="554.57" x2="72.8" y2="554.57" stroke="#1a1a1a" stroke-width="1.15" />
<line x1="69.6" y1="551.17" x2="72.8" y2="551.17" stroke="#1a1a1a" stroke-width="1.15" />
<line x1="68.9" y1="547.78" x2="76.8" y2="547.78" stroke="#1a1a1a" stroke-width="1.2" />
<line x1="69.6" y1="544.38" x2="72.8" y2="544.38" stroke="#1a1a1a" stroke-width="1.15" />
<line x1="69.6" y1="540.99" x2="72.8" y2="540.99" stroke="#1a1a1a" stroke-width="1.15" />
<line x1="69.6" y1="537.59" x2="72.8" y2="537.59" stroke="#1a1a1a" stroke-width="1.15" />
<line x1="69.6" y1="534.2" x2="72.8" y2="534.2" stroke="#1a1a1a" stroke-width="1.15" />
<line x1="68.9" y1="530.8" x2="72.8" y2="530.8" stroke="#1a1a1a" stroke-width="1.2" />
<text x="61.4" y="687.8" font-size="12.3" text-anchor="end" font-weight="normal" fill="#000" stroke="#000" stroke-width="0.22">0</text>
<text x="61.4" y="670.82" font-size="12.3" text-anchor="end" font-weight="normal" fill="#000" stroke="#000" stroke-width="0.22">2</text>
<text x="61.4" y="653.84" font-size="12.3" text-anchor="end" font-weight="normal" fill="#000" stroke="#000" stroke-width="0.22">4</text>
<text x="61.4" y="636.87" font-size="12.3" text-anchor="end" font-weight="normal" fill="#000" stroke="#000" stroke-width="0.22">6</text>
<text x="61.4" y="619.89" font-size="12.3" text-anchor="end" font-weight="normal" fill="#000" stroke="#000" stroke-width="0.22">8</text>
<text x="61.4" y="602.91" font-size="12.3" text-anchor="end" font-weight="normal" fill="#000" stroke="#000" stroke-width="0.22">10</text>
<text x="61.4" y="585.93" font-size="12.3" text-anchor="end" font-weight="normal" fill="#000" stroke="#000" stroke-width="0.22">12</text>
<text x="61.4" y="568.96" font-size="12.3" text-anchor="end" font-weight="normal" fill="#000" stroke="#000" stroke-width="0.22">14</text>
<text x="61.4" y="551.98" font-size="12.3" text-anchor="end" font-weight="normal" fill="#000" stroke="#000" stroke-width="0.22">16</text>
<text x="61.4" y="535" font-size="12.3" text-anchor="end" font-weight="normal" fill="#000" stroke="#000" stroke-width="0.22">18</text>
<line x1="72.8" y1="683.6" x2="72.8" y2="687.6" stroke="#1a1a1a" stroke-width="1.2" />
<line x1="81.3" y1="683.6" x2="81.3" y2="686.7" stroke="#1a1a1a" stroke-width="1.15" />
<line x1="89.8" y1="683.6" x2="89.8" y2="686.7" stroke="#1a1a1a" stroke-width="1.15" />
<line x1="98.3" y1="683.6" x2="98.3" y2="686.7" stroke="#1a1a1a" stroke-width="1.15" />
<line x1="106.8" y1="683.6" x2="106.8" y2="686.7" stroke="#1a1a1a" stroke-width="1.15" />
<line x1="115.3" y1="679.9" x2="115.3" y2="687.6" stroke="#1a1a1a" stroke-width="1.2" />
<line x1="123.8" y1="683.6" x2="123.8" y2="686.7" stroke="#1a1a1a" stroke-width="1.15" />
<line x1="132.3" y1="683.6" x2="132.3" y2="686.7" stroke="#1a1a1a" stroke-width="1.15" />
<line x1="140.8" y1="683.6" x2="140.8" y2="686.7" stroke="#1a1a1a" stroke-width="1.15" />
<line x1="149.3" y1="683.6" x2="149.3" y2="686.7" stroke="#1a1a1a" stroke-width="1.15" />
<line x1="157.8" y1="679.9" x2="157.8" y2="687.6" stroke="#1a1a1a" stroke-width="1.2" />
<line x1="166.3" y1="683.6" x2="166.3" y2="686.7" stroke="#1a1a1a" stroke-width="1.15" />
<line x1="174.8" y1="683.6" x2="174.8" y2="686.7" stroke="#1a1a1a" stroke-width="1.15" />
<line x1="183.3" y1="683.6" x2="183.3" y2="686.7" stroke="#1a1a1a" stroke-width="1.15" />
<line x1="191.8" y1="683.6" x2="191.8" y2="686.7" stroke="#1a1a1a" stroke-width="1.15" />
<line x1="200.3" y1="679.9" x2="200.3" y2="687.6" stroke="#1a1a1a" stroke-width="1.2" />
<line x1="208.8" y1="683.6" x2="208.8" y2="686.7" stroke="#1a1a1a" stroke-width="1.15" />
<line x1="217.3" y1="683.6" x2="217.3" y2="686.7" stroke="#1a1a1a" stroke-width="1.15" />
<line x1="225.8" y1="683.6" x2="225.8" y2="686.7" stroke="#1a1a1a" stroke-width="1.15" />
<line x1="234.3" y1="683.6" x2="234.3" y2="686.7" stroke="#1a1a1a" stroke-width="1.15" />
<line x1="242.8" y1="683.6" x2="242.8" y2="687.6" stroke="#1a1a1a" stroke-width="1.2" />
<text x="72.5" y="702.7" font-size="12.3" text-anchor="middle" font-weight="normal" fill="#000" stroke="#000" stroke-width="0.22">0</text>
<text x="115" y="702.7" font-size="12.3" text-anchor="middle" font-weight="normal" fill="#000" stroke="#000" stroke-width="0.22">0.1</text>
<text x="157.5" y="702.7" font-size="12.3" text-anchor="middle" font-weight="normal" fill="#000" stroke="#000" stroke-width="0.22">0.2</text>
<text x="200" y="702.7" font-size="12.3" text-anchor="middle" font-weight="normal" fill="#000" stroke="#000" stroke-width="0.22">0.3</text>
<text x="242.5" y="702.7" font-size="12.3" text-anchor="middle" font-weight="normal" fill="#000" stroke="#000" stroke-width="0.22">0.4</text>
<line x1="120.99" y1="683.6" x2="206.33" y2="552.87" stroke="#ff0a0a" stroke-width="1.75" stroke-linecap="butt"/>
<circle cx="117.59" cy="681.05" r="2.55" fill="none" stroke="#ff0a0a" stroke-width="1.5"/>
<circle cx="123.59" cy="678.93" r="2.55" fill="none" stroke="#ff0a0a" stroke-width="1.5"/>
<circle cx="132.89" cy="664.08" r="2.55" fill="none" stroke="#ff0a0a" stroke-width="1.5"/>
<circle cx="150.41" cy="652.62" r="2.55" fill="none" stroke="#ff0a0a" stroke-width="1.5"/>
<circle cx="206.33" cy="546.5" r="2.55" fill="none" stroke="#ff0a0a" stroke-width="1.5"/>
<text x="88.8" y="556.5" font-size="12.65" text-anchor="start" font-weight="normal" fill="#333" stroke="#333" stroke-width="0.15">y = 76.675x - 8.6979</text>
<text x="88.8" y="571.25" font-size="12.65" text-anchor="start" font-weight="normal" fill="#333" stroke="#333" stroke-width="0.15">R² = 0.98</text>
<text x="160.8" y="525.8" font-size="14" text-anchor="middle" font-weight="bold" fill="#111" >0.5 μM</text>
<text transform="translate(42.2 606.6) rotate(-90)" font-size="12.5" text-anchor="middle" font-weight="bold" fill="#111"><tspan font-style="italic">i</tspan>/μA</text>
<text x="138" y="721.3" font-size="12.5" font-weight="bold" fill="#111">t<tspan font-size="8.3" dy="-4.2">-1/2</tspan><tspan dy="4.2">/s</tspan><tspan font-size="8.3" dy="-4.2">-1/2</tspan></text>
</g>
<g>
<rect x="289.1" y="531.9" width="169.2" height="152.5" fill="none" stroke="#1a1a1a" stroke-width="1.25"/>
<line x1="285.2" y1="684.4" x2="289.1" y2="684.4" stroke="#1a1a1a" stroke-width="1.2" />
<line x1="285.9" y1="681.01" x2="289.1" y2="681.01" stroke="#1a1a1a" stroke-width="1.15" />
<line x1="285.9" y1="677.62" x2="289.1" y2="677.62" stroke="#1a1a1a" stroke-width="1.15" />
<line x1="285.9" y1="674.23" x2="289.1" y2="674.23" stroke="#1a1a1a" stroke-width="1.15" />
<line x1="285.9" y1="670.84" x2="289.1" y2="670.84" stroke="#1a1a1a" stroke-width="1.15" />
<line x1="285.2" y1="667.46" x2="293.1" y2="667.46" stroke="#1a1a1a" stroke-width="1.2" />
<line x1="285.9" y1="664.07" x2="289.1" y2="664.07" stroke="#1a1a1a" stroke-width="1.15" />
<line x1="285.9" y1="660.68" x2="289.1" y2="660.68" stroke="#1a1a1a" stroke-width="1.15" />
<line x1="285.9" y1="657.29" x2="289.1" y2="657.29" stroke="#1a1a1a" stroke-width="1.15" />
<line x1="285.9" y1="653.9" x2="289.1" y2="653.9" stroke="#1a1a1a" stroke-width="1.15" />
<line x1="285.2" y1="650.51" x2="293.1" y2="650.51" stroke="#1a1a1a" stroke-width="1.2" />
<line x1="285.9" y1="647.12" x2="289.1" y2="647.12" stroke="#1a1a1a" stroke-width="1.15" />
<line x1="285.9" y1="643.73" x2="289.1" y2="643.73" stroke="#1a1a1a" stroke-width="1.15" />
<line x1="285.9" y1="640.34" x2="289.1" y2="640.34" stroke="#1a1a1a" stroke-width="1.15" />
<line x1="285.9" y1="636.96" x2="289.1" y2="636.96" stroke="#1a1a1a" stroke-width="1.15" />
<line x1="285.2" y1="633.57" x2="293.1" y2="633.57" stroke="#1a1a1a" stroke-width="1.2" />
<line x1="285.9" y1="630.18" x2="289.1" y2="630.18" stroke="#1a1a1a" stroke-width="1.15" />
<line x1="285.9" y1="626.79" x2="289.1" y2="626.79" stroke="#1a1a1a" stroke-width="1.15" />
<line x1="285.9" y1="623.4" x2="289.1" y2="623.4" stroke="#1a1a1a" stroke-width="1.15" />
<line x1="285.9" y1="620.01" x2="289.1" y2="620.01" stroke="#1a1a1a" stroke-width="1.15" />
<line x1="285.2" y1="616.62" x2="293.1" y2="616.62" stroke="#1a1a1a" stroke-width="1.2" />
<line x1="285.9" y1="613.23" x2="289.1" y2="613.23" stroke="#1a1a1a" stroke-width="1.15" />
<line x1="285.9" y1="609.84" x2="289.1" y2="609.84" stroke="#1a1a1a" stroke-width="1.15" />
<line x1="285.9" y1="606.46" x2="289.1" y2="606.46" stroke="#1a1a1a" stroke-width="1.15" />
<line x1="285.9" y1="603.07" x2="289.1" y2="603.07" stroke="#1a1a1a" stroke-width="1.15" />
<line x1="285.2" y1="599.68" x2="293.1" y2="599.68" stroke="#1a1a1a" stroke-width="1.2" />
<line x1="285.9" y1="596.29" x2="289.1" y2="596.29" stroke="#1a1a1a" stroke-width="1.15" />
<line x1="285.9" y1="592.9" x2="289.1" y2="592.9" stroke="#1a1a1a" stroke-width="1.15" />
<line x1="285.9" y1="589.51" x2="289.1" y2="589.51" stroke="#1a1a1a" stroke-width="1.15" />
<line x1="285.9" y1="586.12" x2="289.1" y2="586.12" stroke="#1a1a1a" stroke-width="1.15" />
<line x1="285.2" y1="582.73" x2="293.1" y2="582.73" stroke="#1a1a1a" stroke-width="1.2" />
<line x1="285.9" y1="579.34" x2="289.1" y2="579.34" stroke="#1a1a1a" stroke-width="1.15" />
<line x1="285.9" y1="575.96" x2="289.1" y2="575.96" stroke="#1a1a1a" stroke-width="1.15" />
<line x1="285.9" y1="572.57" x2="289.1" y2="572.57" stroke="#1a1a1a" stroke-width="1.15" />
<line x1="285.9" y1="569.18" x2="289.1" y2="569.18" stroke="#1a1a1a" stroke-width="1.15" />
<line x1="285.2" y1="565.79" x2="293.1" y2="565.79" stroke="#1a1a1a" stroke-width="1.2" />
<line x1="285.9" y1="562.4" x2="289.1" y2="562.4" stroke="#1a1a1a" stroke-width="1.15" />
<line x1="285.9" y1="559.01" x2="289.1" y2="559.01" stroke="#1a1a1a" stroke-width="1.15" />
<line x1="285.9" y1="555.62" x2="289.1" y2="555.62" stroke="#1a1a1a" stroke-width="1.15" />
<line x1="285.9" y1="552.23" x2="289.1" y2="552.23" stroke="#1a1a1a" stroke-width="1.15" />
<line x1="285.2" y1="548.84" x2="293.1" y2="548.84" stroke="#1a1a1a" stroke-width="1.2" />
<line x1="285.9" y1="545.46" x2="289.1" y2="545.46" stroke="#1a1a1a" stroke-width="1.15" />
<line x1="285.9" y1="542.07" x2="289.1" y2="542.07" stroke="#1a1a1a" stroke-width="1.15" />
<line x1="285.9" y1="538.68" x2="289.1" y2="538.68" stroke="#1a1a1a" stroke-width="1.15" />
<line x1="285.9" y1="535.29" x2="289.1" y2="535.29" stroke="#1a1a1a" stroke-width="1.15" />
<line x1="285.2" y1="531.9" x2="289.1" y2="531.9" stroke="#1a1a1a" stroke-width="1.2" />
<text x="277.6" y="688.1" font-size="12.3" text-anchor="end" font-weight="normal" fill="#000" stroke="#000" stroke-width="0.22">0</text>
<text x="277.6" y="671.16" font-size="12.3" text-anchor="end" font-weight="normal" fill="#000" stroke="#000" stroke-width="0.22">2</text>
<text x="277.6" y="654.21" font-size="12.3" text-anchor="end" font-weight="normal" fill="#000" stroke="#000" stroke-width="0.22">4</text>
<text x="277.6" y="637.27" font-size="12.3" text-anchor="end" font-weight="normal" fill="#000" stroke="#000" stroke-width="0.22">6</text>
<text x="277.6" y="620.32" font-size="12.3" text-anchor="end" font-weight="normal" fill="#000" stroke="#000" stroke-width="0.22">8</text>
<text x="277.6" y="603.38" font-size="12.3" text-anchor="end" font-weight="normal" fill="#000" stroke="#000" stroke-width="0.22">10</text>
<text x="277.6" y="586.43" font-size="12.3" text-anchor="end" font-weight="normal" fill="#000" stroke="#000" stroke-width="0.22">12</text>
<text x="277.6" y="569.49" font-size="12.3" text-anchor="end" font-weight="normal" fill="#000" stroke="#000" stroke-width="0.22">14</text>
<text x="277.6" y="552.54" font-size="12.3" text-anchor="end" font-weight="normal" fill="#000" stroke="#000" stroke-width="0.22">16</text>
<text x="277.6" y="535.6" font-size="12.3" text-anchor="end" font-weight="normal" fill="#000" stroke="#000" stroke-width="0.22">18</text>
<line x1="289.1" y1="684.4" x2="289.1" y2="688.4" stroke="#1a1a1a" stroke-width="1.2" />
<line x1="297.56" y1="684.4" x2="297.56" y2="687.5" stroke="#1a1a1a" stroke-width="1.15" />
<line x1="306.02" y1="684.4" x2="306.02" y2="687.5" stroke="#1a1a1a" stroke-width="1.15" />
<line x1="314.48" y1="684.4" x2="314.48" y2="687.5" stroke="#1a1a1a" stroke-width="1.15" />
<line x1="322.94" y1="684.4" x2="322.94" y2="687.5" stroke="#1a1a1a" stroke-width="1.15" />
<line x1="331.4" y1="680.7" x2="331.4" y2="688.4" stroke="#1a1a1a" stroke-width="1.2" />
<line x1="339.86" y1="684.4" x2="339.86" y2="687.5" stroke="#1a1a1a" stroke-width="1.15" />
<line x1="348.32" y1="684.4" x2="348.32" y2="687.5" stroke="#1a1a1a" stroke-width="1.15" />
<line x1="356.78" y1="684.4" x2="356.78" y2="687.5" stroke="#1a1a1a" stroke-width="1.15" />
<line x1="365.24" y1="684.4" x2="365.24" y2="687.5" stroke="#1a1a1a" stroke-width="1.15" />
<line x1="373.7" y1="680.7" x2="373.7" y2="688.4" stroke="#1a1a1a" stroke-width="1.2" />
<line x1="382.16" y1="684.4" x2="382.16" y2="687.5" stroke="#1a1a1a" stroke-width="1.15" />
<line x1="390.62" y1="684.4" x2="390.62" y2="687.5" stroke="#1a1a1a" stroke-width="1.15" />
<line x1="399.08" y1="684.4" x2="399.08" y2="687.5" stroke="#1a1a1a" stroke-width="1.15" />
<line x1="407.54" y1="684.4" x2="407.54" y2="687.5" stroke="#1a1a1a" stroke-width="1.15" />
<line x1="416" y1="680.7" x2="416" y2="688.4" stroke="#1a1a1a" stroke-width="1.2" />
<line x1="424.46" y1="684.4" x2="424.46" y2="687.5" stroke="#1a1a1a" stroke-width="1.15" />
<line x1="432.92" y1="684.4" x2="432.92" y2="687.5" stroke="#1a1a1a" stroke-width="1.15" />
<line x1="441.38" y1="684.4" x2="441.38" y2="687.5" stroke="#1a1a1a" stroke-width="1.15" />
<line x1="449.84" y1="684.4" x2="449.84" y2="687.5" stroke="#1a1a1a" stroke-width="1.15" />
<line x1="458.3" y1="684.4" x2="458.3" y2="688.4" stroke="#1a1a1a" stroke-width="1.2" />
<text x="288.8" y="704.4" font-size="12.3" text-anchor="middle" font-weight="normal" fill="#000" stroke="#000" stroke-width="0.22">0</text>
<text x="331.1" y="704.4" font-size="12.3" text-anchor="middle" font-weight="normal" fill="#000" stroke="#000" stroke-width="0.22">0.1</text>
<text x="373.4" y="704.4" font-size="12.3" text-anchor="middle" font-weight="normal" fill="#000" stroke="#000" stroke-width="0.22">0.2</text>
<text x="415.7" y="704.4" font-size="12.3" text-anchor="middle" font-weight="normal" fill="#000" stroke="#000" stroke-width="0.22">0.3</text>
<text x="458" y="704.4" font-size="12.3" text-anchor="middle" font-weight="normal" fill="#000" stroke="#000" stroke-width="0.22">0.4</text>
<line x1="342.48" y1="684.4" x2="422.85" y2="553.93" stroke="#19e619" stroke-width="1.75" stroke-linecap="butt"/>
<circle cx="333.68" cy="683.13" r="2.55" fill="none" stroke="#19e619" stroke-width="1.5"/>
<circle cx="339.65" cy="683.13" r="2.55" fill="none" stroke="#19e619" stroke-width="1.5"/>
<circle cx="348.91" cy="680.59" r="2.55" fill="none" stroke="#19e619" stroke-width="1.5"/>
<circle cx="366.34" cy="657.29" r="2.55" fill="none" stroke="#19e619" stroke-width="1.5"/>
<circle cx="422.85" cy="545.2" r="2.55" fill="none" stroke="#19e619" stroke-width="1.5"/>
<text x="302.5" y="555.9" font-size="12.65" text-anchor="start" font-weight="normal" fill="#333" stroke="#333" stroke-width="0.15">y = 80.788x - 10.073</text>
<text x="302.5" y="570.85" font-size="12.65" text-anchor="start" font-weight="normal" fill="#333" stroke="#333" stroke-width="0.15">R² = 0.95</text>
<text x="367.4" y="526" font-size="14" text-anchor="middle" font-weight="bold" fill="#111" >0.7 μM</text>
<text transform="translate(258.4 608) rotate(-90)" font-size="12.5" text-anchor="middle" font-weight="bold" fill="#111"><tspan font-style="italic">i</tspan>/μA</text>
<text x="353" y="722.1" font-size="12.5" font-weight="bold" fill="#111">t<tspan font-size="8.3" dy="-4.2">-1/2</tspan><tspan dy="4.2">/s</tspan><tspan font-size="8.3" dy="-4.2">-1/2</tspan></text>
</g>
<g>
<rect x="501" y="532.7" width="170.1" height="152.6" fill="none" stroke="#1a1a1a" stroke-width="1.25"/>
<line x1="497.1" y1="685.3" x2="501" y2="685.3" stroke="#1a1a1a" stroke-width="1.2" />
<line x1="497.8" y1="677.67" x2="501" y2="677.67" stroke="#1a1a1a" stroke-width="1.15" />
<line x1="497.8" y1="670.04" x2="501" y2="670.04" stroke="#1a1a1a" stroke-width="1.15" />
<line x1="497.8" y1="662.41" x2="501" y2="662.41" stroke="#1a1a1a" stroke-width="1.15" />
<line x1="497.8" y1="654.78" x2="501" y2="654.78" stroke="#1a1a1a" stroke-width="1.15" />
<line x1="497.1" y1="647.15" x2="505" y2="647.15" stroke="#1a1a1a" stroke-width="1.2" />
<line x1="497.8" y1="639.52" x2="501" y2="639.52" stroke="#1a1a1a" stroke-width="1.15" />
<line x1="497.8" y1="631.89" x2="501" y2="631.89" stroke="#1a1a1a" stroke-width="1.15" />
<line x1="497.8" y1="624.26" x2="501" y2="624.26" stroke="#1a1a1a" stroke-width="1.15" />
<line x1="497.8" y1="616.63" x2="501" y2="616.63" stroke="#1a1a1a" stroke-width="1.15" />
<line x1="497.1" y1="609" x2="505" y2="609" stroke="#1a1a1a" stroke-width="1.2" />
<line x1="497.8" y1="601.37" x2="501" y2="601.37" stroke="#1a1a1a" stroke-width="1.15" />
<line x1="497.8" y1="593.74" x2="501" y2="593.74" stroke="#1a1a1a" stroke-width="1.15" />
<line x1="497.8" y1="586.11" x2="501" y2="586.11" stroke="#1a1a1a" stroke-width="1.15" />
<line x1="497.8" y1="578.48" x2="501" y2="578.48" stroke="#1a1a1a" stroke-width="1.15" />
<line x1="497.1" y1="570.85" x2="505" y2="570.85" stroke="#1a1a1a" stroke-width="1.2" />
<line x1="497.8" y1="563.22" x2="501" y2="563.22" stroke="#1a1a1a" stroke-width="1.15" />
<line x1="497.8" y1="555.59" x2="501" y2="555.59" stroke="#1a1a1a" stroke-width="1.15" />
<line x1="497.8" y1="547.96" x2="501" y2="547.96" stroke="#1a1a1a" stroke-width="1.15" />
<line x1="497.8" y1="540.33" x2="501" y2="540.33" stroke="#1a1a1a" stroke-width="1.15" />
<line x1="497.1" y1="532.7" x2="501" y2="532.7" stroke="#1a1a1a" stroke-width="1.2" />
<text x="491.2" y="688.5" font-size="12.3" text-anchor="end" font-weight="normal" fill="#000" stroke="#000" stroke-width="0.22">0</text>
<text x="491.2" y="650.35" font-size="12.3" text-anchor="end" font-weight="normal" fill="#000" stroke="#000" stroke-width="0.22">5</text>
<text x="491.2" y="612.2" font-size="12.3" text-anchor="end" font-weight="normal" fill="#000" stroke="#000" stroke-width="0.22">10</text>
<text x="491.2" y="574.05" font-size="12.3" text-anchor="end" font-weight="normal" fill="#000" stroke="#000" stroke-width="0.22">15</text>
<text x="491.2" y="535.9" font-size="12.3" text-anchor="end" font-weight="normal" fill="#000" stroke="#000" stroke-width="0.22">20</text>
<line x1="501" y1="685.3" x2="501" y2="689.3" stroke="#1a1a1a" stroke-width="1.2" />
<line x1="509.5" y1="685.3" x2="509.5" y2="688.4" stroke="#1a1a1a" stroke-width="1.15" />
<line x1="518.01" y1="685.3" x2="518.01" y2="688.4" stroke="#1a1a1a" stroke-width="1.15" />
<line x1="526.51" y1="685.3" x2="526.51" y2="688.4" stroke="#1a1a1a" stroke-width="1.15" />
<line x1="535.02" y1="685.3" x2="535.02" y2="688.4" stroke="#1a1a1a" stroke-width="1.15" />
<line x1="543.52" y1="681.6" x2="543.52" y2="689.3" stroke="#1a1a1a" stroke-width="1.2" />
<line x1="552.03" y1="685.3" x2="552.03" y2="688.4" stroke="#1a1a1a" stroke-width="1.15" />
<line x1="560.53" y1="685.3" x2="560.53" y2="688.4" stroke="#1a1a1a" stroke-width="1.15" />
<line x1="569.04" y1="685.3" x2="569.04" y2="688.4" stroke="#1a1a1a" stroke-width="1.15" />
<line x1="577.54" y1="685.3" x2="577.54" y2="688.4" stroke="#1a1a1a" stroke-width="1.15" />
<line x1="586.05" y1="681.6" x2="586.05" y2="689.3" stroke="#1a1a1a" stroke-width="1.2" />
<line x1="594.56" y1="685.3" x2="594.56" y2="688.4" stroke="#1a1a1a" stroke-width="1.15" />
<line x1="603.06" y1="685.3" x2="603.06" y2="688.4" stroke="#1a1a1a" stroke-width="1.15" />
<line x1="611.57" y1="685.3" x2="611.57" y2="688.4" stroke="#1a1a1a" stroke-width="1.15" />
<line x1="620.07" y1="685.3" x2="620.07" y2="688.4" stroke="#1a1a1a" stroke-width="1.15" />
<line x1="628.58" y1="681.6" x2="628.58" y2="689.3" stroke="#1a1a1a" stroke-width="1.2" />
<line x1="637.08" y1="685.3" x2="637.08" y2="688.4" stroke="#1a1a1a" stroke-width="1.15" />
<line x1="645.59" y1="685.3" x2="645.59" y2="688.4" stroke="#1a1a1a" stroke-width="1.15" />
<line x1="654.09" y1="685.3" x2="654.09" y2="688.4" stroke="#1a1a1a" stroke-width="1.15" />
<line x1="662.6" y1="685.3" x2="662.6" y2="688.4" stroke="#1a1a1a" stroke-width="1.15" />
<line x1="671.1" y1="685.3" x2="671.1" y2="689.3" stroke="#1a1a1a" stroke-width="1.2" />
<text x="500.7" y="703.7" font-size="12.3" text-anchor="middle" font-weight="normal" fill="#000" stroke="#000" stroke-width="0.22">0</text>
<text x="543.23" y="703.7" font-size="12.3" text-anchor="middle" font-weight="normal" fill="#000" stroke="#000" stroke-width="0.22">0.1</text>
<text x="585.75" y="703.7" font-size="12.3" text-anchor="middle" font-weight="normal" fill="#000" stroke="#000" stroke-width="0.22">0.2</text>
<text x="628.28" y="703.7" font-size="12.3" text-anchor="middle" font-weight="normal" fill="#000" stroke="#000" stroke-width="0.22">0.3</text>
<text x="670.8" y="703.7" font-size="12.3" text-anchor="middle" font-weight="normal" fill="#000" stroke="#000" stroke-width="0.22">0.4</text>
<line x1="556.41" y1="685.3" x2="635.17" y2="554.06" stroke="#ff2ad4" stroke-width="1.75" stroke-linecap="butt"/>
<rect x="542.41" y="681.56" width="5.2" height="5.2" fill="none" stroke="#ff2ad4" stroke-width="1.8"/>
<rect x="548.41" y="681.56" width="5.2" height="5.2" fill="none" stroke="#ff2ad4" stroke-width="1.8"/>
<rect x="557.76" y="681.17" width="5.2" height="5.2" fill="none" stroke="#ff2ad4" stroke-width="1.8"/>
<rect x="575.58" y="659.81" width="5.2" height="5.2" fill="none" stroke="#ff2ad4" stroke-width="1.8"/>
<rect x="632.57" y="538.72" width="5.2" height="5.2" fill="none" stroke="#ff2ad4" stroke-width="1.8"/>
<text x="510.9" y="555.9" font-size="12.3" text-anchor="start" font-weight="normal" fill="#333" stroke="#333" stroke-width="0.15">y = 92.241x - 12.021</text>
<text x="510.9" y="570.65" font-size="12.3" text-anchor="start" font-weight="normal" fill="#333" stroke="#333" stroke-width="0.15">R² = 0.89</text>
<text x="581.5" y="528.6" font-size="14" text-anchor="middle" font-weight="bold" fill="#111" >0.9 μM</text>
<text transform="translate(471.3 609) rotate(-90)" font-size="12.5" text-anchor="middle" font-weight="bold" fill="#111"><tspan font-style="italic">i</tspan>/μA</text>
<text x="566.5" y="722.4" font-size="12.5" font-weight="bold" fill="#111">t<tspan font-size="8.3" dy="-4.2">-1/2</tspan><tspan dy="4.2">/s</tspan><tspan font-size="8.3" dy="-4.2">-1/2</tspan></text>
</g>
</g>
<g id="panelC" opacity="0.999">
<rect x="160.7" y="748.8" width="483.7" height="188.7" fill="none" stroke="#111" stroke-width="1.5"/>
<line x1="154.7" y1="937.67" x2="166.2" y2="937.67" stroke="#111" stroke-width="1.4" />
<line x1="156.1" y1="931.86" x2="160.7" y2="931.86" stroke="#111" stroke-width="1.2" />
<line x1="156.1" y1="926.04" x2="160.7" y2="926.04" stroke="#111" stroke-width="1.2" />
<line x1="156.1" y1="920.23" x2="160.7" y2="920.23" stroke="#111" stroke-width="1.2" />
<line x1="156.1" y1="914.41" x2="160.7" y2="914.41" stroke="#111" stroke-width="1.2" />
<line x1="154.7" y1="908.6" x2="166.2" y2="908.6" stroke="#111" stroke-width="1.4" />
<line x1="156.1" y1="902.79" x2="160.7" y2="902.79" stroke="#111" stroke-width="1.2" />
<line x1="156.1" y1="896.97" x2="160.7" y2="896.97" stroke="#111" stroke-width="1.2" />
<line x1="156.1" y1="891.16" x2="160.7" y2="891.16" stroke="#111" stroke-width="1.2" />
<line x1="156.1" y1="885.34" x2="160.7" y2="885.34" stroke="#111" stroke-width="1.2" />
<line x1="154.7" y1="879.53" x2="166.2" y2="879.53" stroke="#111" stroke-width="1.4" />
<line x1="156.1" y1="873.72" x2="160.7" y2="873.72" stroke="#111" stroke-width="1.2" />
<line x1="156.1" y1="867.9" x2="160.7" y2="867.9" stroke="#111" stroke-width="1.2" />
<line x1="156.1" y1="862.09" x2="160.7" y2="862.09" stroke="#111" stroke-width="1.2" />
<line x1="156.1" y1="856.27" x2="160.7" y2="856.27" stroke="#111" stroke-width="1.2" />
<line x1="154.7" y1="850.46" x2="166.2" y2="850.46" stroke="#111" stroke-width="1.4" />
<line x1="156.1" y1="844.65" x2="160.7" y2="844.65" stroke="#111" stroke-width="1.2" />
<line x1="156.1" y1="838.83" x2="160.7" y2="838.83" stroke="#111" stroke-width="1.2" />
<line x1="156.1" y1="833.02" x2="160.7" y2="833.02" stroke="#111" stroke-width="1.2" />
<line x1="156.1" y1="827.2" x2="160.7" y2="827.2" stroke="#111" stroke-width="1.2" />
<line x1="154.7" y1="821.39" x2="166.2" y2="821.39" stroke="#111" stroke-width="1.4" />
<line x1="156.1" y1="815.58" x2="160.7" y2="815.58" stroke="#111" stroke-width="1.2" />
<line x1="156.1" y1="809.76" x2="160.7" y2="809.76" stroke="#111" stroke-width="1.2" />
<line x1="156.1" y1="803.95" x2="160.7" y2="803.95" stroke="#111" stroke-width="1.2" />
<line x1="156.1" y1="798.13" x2="160.7" y2="798.13" stroke="#111" stroke-width="1.2" />
<line x1="154.7" y1="792.32" x2="166.2" y2="792.32" stroke="#111" stroke-width="1.4" />
<line x1="156.1" y1="786.51" x2="160.7" y2="786.51" stroke="#111" stroke-width="1.2" />
<line x1="156.1" y1="780.69" x2="160.7" y2="780.69" stroke="#111" stroke-width="1.2" />
<line x1="156.1" y1="774.88" x2="160.7" y2="774.88" stroke="#111" stroke-width="1.2" />
<line x1="156.1" y1="769.06" x2="160.7" y2="769.06" stroke="#111" stroke-width="1.2" />
<line x1="154.7" y1="763.25" x2="166.2" y2="763.25" stroke="#111" stroke-width="1.4" />
<line x1="156.1" y1="757.44" x2="160.7" y2="757.44" stroke="#111" stroke-width="1.2" />
<line x1="156.1" y1="751.62" x2="160.7" y2="751.62" stroke="#111" stroke-width="1.2" />
<text x="146.8" y="944.07" font-size="19.5" text-anchor="end" font-weight="normal" fill="#111" >-20</text>
<text x="146.8" y="915" font-size="19.5" text-anchor="end" font-weight="normal" fill="#111" >0</text>
<text x="146.8" y="885.93" font-size="19.5" text-anchor="end" font-weight="normal" fill="#111" >20</text>
<text x="146.8" y="856.86" font-size="19.5" text-anchor="end" font-weight="normal" fill="#111" >40</text>
<text x="146.8" y="827.79" font-size="19.5" text-anchor="end" font-weight="normal" fill="#111" >60</text>
<text x="146.8" y="798.72" font-size="19.5" text-anchor="end" font-weight="normal" fill="#111" >80</text>
<text x="146.8" y="769.65" font-size="19.5" text-anchor="end" font-weight="normal" fill="#111" >100</text>
<line x1="160.7" y1="931.5" x2="160.7" y2="943.3" stroke="#111" stroke-width="1.4" />
<line x1="170.37" y1="937.5" x2="170.37" y2="942" stroke="#111" stroke-width="1.2" />
<line x1="180.05" y1="937.5" x2="180.05" y2="942" stroke="#111" stroke-width="1.2" />
<line x1="189.72" y1="937.5" x2="189.72" y2="942" stroke="#111" stroke-width="1.2" />
<line x1="199.4" y1="937.5" x2="199.4" y2="942" stroke="#111" stroke-width="1.2" />
<line x1="209.07" y1="931.5" x2="209.07" y2="943.3" stroke="#111" stroke-width="1.4" />
<line x1="218.74" y1="937.5" x2="218.74" y2="942" stroke="#111" stroke-width="1.2" />
<line x1="228.42" y1="937.5" x2="228.42" y2="942" stroke="#111" stroke-width="1.2" />
<line x1="238.09" y1="937.5" x2="238.09" y2="942" stroke="#111" stroke-width="1.2" />
<line x1="247.77" y1="937.5" x2="247.77" y2="942" stroke="#111" stroke-width="1.2" />
<line x1="257.44" y1="931.5" x2="257.44" y2="943.3" stroke="#111" stroke-width="1.4" />
<line x1="267.11" y1="937.5" x2="267.11" y2="942" stroke="#111" stroke-width="1.2" />
<line x1="276.79" y1="937.5" x2="276.79" y2="942" stroke="#111" stroke-width="1.2" />
<line x1="286.46" y1="937.5" x2="286.46" y2="942" stroke="#111" stroke-width="1.2" />
<line x1="296.14" y1="937.5" x2="296.14" y2="942" stroke="#111" stroke-width="1.2" />
<line x1="305.81" y1="931.5" x2="305.81" y2="943.3" stroke="#111" stroke-width="1.4" />
<line x1="315.48" y1="937.5" x2="315.48" y2="942" stroke="#111" stroke-width="1.2" />
<line x1="325.16" y1="937.5" x2="325.16" y2="942" stroke="#111" stroke-width="1.2" />
<line x1="334.83" y1="937.5" x2="334.83" y2="942" stroke="#111" stroke-width="1.2" />
<line x1="344.51" y1="937.5" x2="344.51" y2="942" stroke="#111" stroke-width="1.2" />
<line x1="354.18" y1="931.5" x2="354.18" y2="943.3" stroke="#111" stroke-width="1.4" />
<line x1="363.85" y1="937.5" x2="363.85" y2="942" stroke="#111" stroke-width="1.2" />
<line x1="373.53" y1="937.5" x2="373.53" y2="942" stroke="#111" stroke-width="1.2" />
<line x1="383.2" y1="937.5" x2="383.2" y2="942" stroke="#111" stroke-width="1.2" />
<line x1="392.88" y1="937.5" x2="392.88" y2="942" stroke="#111" stroke-width="1.2" />
<line x1="402.55" y1="931.5" x2="402.55" y2="943.3" stroke="#111" stroke-width="1.4" />
<line x1="412.22" y1="937.5" x2="412.22" y2="942" stroke="#111" stroke-width="1.2" />
<line x1="421.9" y1="937.5" x2="421.9" y2="942" stroke="#111" stroke-width="1.2" />
<line x1="431.57" y1="937.5" x2="431.57" y2="942" stroke="#111" stroke-width="1.2" />
<line x1="441.25" y1="937.5" x2="441.25" y2="942" stroke="#111" stroke-width="1.2" />
<line x1="450.92" y1="931.5" x2="450.92" y2="943.3" stroke="#111" stroke-width="1.4" />
<line x1="460.59" y1="937.5" x2="460.59" y2="942" stroke="#111" stroke-width="1.2" />
<line x1="470.27" y1="937.5" x2="470.27" y2="942" stroke="#111" stroke-width="1.2" />
<line x1="479.94" y1="937.5" x2="479.94" y2="942" stroke="#111" stroke-width="1.2" />
<line x1="489.62" y1="937.5" x2="489.62" y2="942" stroke="#111" stroke-width="1.2" />
<line x1="499.29" y1="931.5" x2="499.29" y2="943.3" stroke="#111" stroke-width="1.4" />
<line x1="508.96" y1="937.5" x2="508.96" y2="942" stroke="#111" stroke-width="1.2" />
<line x1="518.64" y1="937.5" x2="518.64" y2="942" stroke="#111" stroke-width="1.2" />
<line x1="528.31" y1="937.5" x2="528.31" y2="942" stroke="#111" stroke-width="1.2" />
<line x1="537.99" y1="937.5" x2="537.99" y2="942" stroke="#111" stroke-width="1.2" />
<line x1="547.66" y1="931.5" x2="547.66" y2="943.3" stroke="#111" stroke-width="1.4" />
<line x1="557.33" y1="937.5" x2="557.33" y2="942" stroke="#111" stroke-width="1.2" />
<line x1="567.01" y1="937.5" x2="567.01" y2="942" stroke="#111" stroke-width="1.2" />
<line x1="576.68" y1="937.5" x2="576.68" y2="942" stroke="#111" stroke-width="1.2" />
<line x1="586.36" y1="937.5" x2="586.36" y2="942" stroke="#111" stroke-width="1.2" />
<line x1="596.03" y1="931.5" x2="596.03" y2="943.3" stroke="#111" stroke-width="1.4" />
<line x1="605.7" y1="937.5" x2="605.7" y2="942" stroke="#111" stroke-width="1.2" />
<line x1="615.38" y1="937.5" x2="615.38" y2="942" stroke="#111" stroke-width="1.2" />
<line x1="625.05" y1="937.5" x2="625.05" y2="942" stroke="#111" stroke-width="1.2" />
<line x1="634.73" y1="937.5" x2="634.73" y2="942" stroke="#111" stroke-width="1.2" />
<line x1="644.4" y1="931.5" x2="644.4" y2="943.3" stroke="#111" stroke-width="1.4" />
<text x="160.4" y="967.8" font-size="19.5" text-anchor="middle" font-weight="normal" fill="#111" >0</text>
<text x="208.77" y="967.8" font-size="19.5" text-anchor="middle" font-weight="normal" fill="#111" >0.1</text>
<text x="257.14" y="967.8" font-size="19.5" text-anchor="middle" font-weight="normal" fill="#111" >0.2</text>
<text x="305.51" y="967.8" font-size="19.5" text-anchor="middle" font-weight="normal" fill="#111" >0.3</text>
<text x="353.88" y="967.8" font-size="19.5" text-anchor="middle" font-weight="normal" fill="#111" >0.4</text>
<text x="402.25" y="967.8" font-size="19.5" text-anchor="middle" font-weight="normal" fill="#111" >0.5</text>
<text x="450.62" y="967.8" font-size="19.5" text-anchor="middle" font-weight="normal" fill="#111" >0.6</text>
<text x="498.99" y="967.8" font-size="19.5" text-anchor="middle" font-weight="normal" fill="#111" >0.7</text>
<text x="547.36" y="967.8" font-size="19.5" text-anchor="middle" font-weight="normal" fill="#111" >0.8</text>
<text x="595.73" y="967.8" font-size="19.5" text-anchor="middle" font-weight="normal" fill="#111" >0.9</text>
<text x="644.1" y="967.8" font-size="19.5" text-anchor="middle" font-weight="normal" fill="#111" >1</text>
<line x1="209.07" y1="883.5" x2="209.07" y2="931.5" stroke="#686868" stroke-width="1.3" />
<line x1="205.27" y1="883.5" x2="212.87" y2="883.5" stroke="#686868" stroke-width="1.3" />
<line x1="205.27" y1="931.5" x2="212.87" y2="931.5" stroke="#686868" stroke-width="1.3" />
<line x1="257.44" y1="875.01" x2="257.44" y2="923.01" stroke="#686868" stroke-width="1.3" />
<line x1="253.64" y1="875.01" x2="261.24" y2="875.01" stroke="#686868" stroke-width="1.3" />
<line x1="253.64" y1="923.01" x2="261.24" y2="923.01" stroke="#686868" stroke-width="1.3" />
<line x1="354.18" y1="846.52" x2="354.18" y2="894.52" stroke="#686868" stroke-width="1.3" />
<line x1="350.38" y1="846.52" x2="357.98" y2="846.52" stroke="#686868" stroke-width="1.3" />
<line x1="350.38" y1="894.52" x2="357.98" y2="894.52" stroke="#686868" stroke-width="1.3" />
<line x1="402.55" y1="773.12" x2="402.55" y2="821.12" stroke="#686868" stroke-width="1.3" />
<line x1="398.75" y1="773.12" x2="406.35" y2="773.12" stroke="#686868" stroke-width="1.3" />
<line x1="398.75" y1="821.12" x2="406.35" y2="821.12" stroke="#686868" stroke-width="1.3" />
<line x1="499.29" y1="767.16" x2="499.29" y2="815.16" stroke="#686868" stroke-width="1.3" />
<line x1="495.49" y1="767.16" x2="503.09" y2="767.16" stroke="#686868" stroke-width="1.3" />
<line x1="495.49" y1="815.16" x2="503.09" y2="815.16" stroke="#686868" stroke-width="1.3" />
<line x1="596.03" y1="750.59" x2="596.03" y2="798.59" stroke="#686868" stroke-width="1.3" />
<line x1="592.23" y1="750.59" x2="599.83" y2="750.59" stroke="#686868" stroke-width="1.3" />
<line x1="592.23" y1="798.59" x2="599.83" y2="798.59" stroke="#686868" stroke-width="1.3" />
<line x1="209.07" y1="907.67" x2="596.03" y2="759.91" stroke="#000" stroke-width="2.6" stroke-linecap="butt"/>
<rect x="204.37" y="903.2" width="8.6" height="8.6" rx="0.8" fill="#fff" stroke="#000" stroke-width="2.4"/>
<rect x="252.74" y="894.71" width="8.6" height="8.6" rx="0.8" fill="#fff" stroke="#000" stroke-width="2.4"/>
<rect x="349.48" y="866.22" width="8.6" height="8.6" rx="0.8" fill="#fff" stroke="#000" stroke-width="2.4"/>
<rect x="397.85" y="792.82" width="8.6" height="8.6" rx="0.8" fill="#fff" stroke="#000" stroke-width="2.4"/>
<rect x="494.59" y="786.86" width="8.6" height="8.6" rx="0.8" fill="#fff" stroke="#000" stroke-width="2.4"/>
<rect x="591.33" y="770.29" width="8.6" height="8.6" rx="0.8" fill="#fff" stroke="#000" stroke-width="2.4"/>
<text x="321.6" y="774.3" font-size="13.5" text-anchor="middle" font-weight="normal" fill="#222" >y = 1.271x - 12.066</text>
<text x="322" y="790.2" font-size="13.5" text-anchor="middle" font-weight="normal" fill="#222" >R² = 0.8846</text>
<text x="94.5" y="757.9" font-size="18" text-anchor="start" font-weight="bold" fill="#000" >C</text>
<text x="404.3" y="994.5" font-size="20.5" text-anchor="middle" font-weight="bold" fill="#000" >Conc./μM</text>
<text transform="translate(107.7 850.2) rotate(-90)" font-size="24" text-anchor="middle" font-weight="bold" fill="#000"><tspan font-style="italic">i</tspan>/t<tspan font-size="16" dy="-8">1/2</tspan><tspan dy="8">/μAs</tspan><tspan font-size="16" dy="-8">-1/2</tspan></text>
</g>
</svg>
</body>
</html>
